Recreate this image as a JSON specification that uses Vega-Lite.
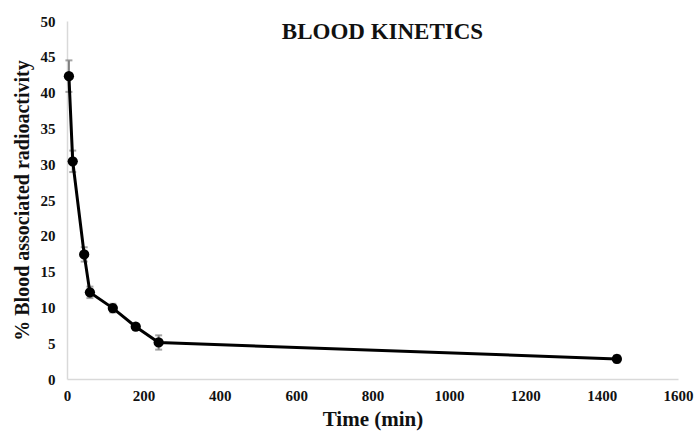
{
  "$schema": "https://vega.github.io/schema/vega-lite/v6.json",
  "autosize": "none",
  "width": 611,
  "height": 358,
  "padding": {"left": 67, "top": 21, "right": 20, "bottom": 52},
  "background": "white",
  "config": {
    "view": {"stroke": null},
    "font": "Liberation Serif",
    "axis": {
      "grid": false,
      "ticks": false,
      "domainColor": "#d9d9d9",
      "domainWidth": 1.5,
      "labelFont": "Liberation Serif",
      "labelFontSize": 15,
      "labelFontWeight": "bold",
      "labelColor": "#111",
      "labelFlush": false,
      "titleFont": "Liberation Serif",
      "titleFontWeight": "bold",
      "titleColor": "#111"
    }
  },
  "title": {
    "text": "BLOOD KINETICS",
    "font": "Liberation Serif",
    "fontSize": 23,
    "fontWeight": "bold",
    "color": "#111",
    "anchor": "middle",
    "frame": "group",
    "dx": 10,
    "offset": -30
  },
  "data": {
    "values": [
      {"time": 5, "value": 42.3, "err": 2.2},
      {"time": 15, "value": 30.4, "err": 1.5},
      {"time": 45, "value": 17.4, "err": 1.0},
      {"time": 60, "value": 12.1, "err": 0.8},
      {"time": 120, "value": 9.9, "err": 0.6},
      {"time": 180, "value": 7.3, "err": 0.4},
      {"time": 240, "value": 5.1, "err": 1.0},
      {"time": 1440, "value": 2.8, "err": 0.5}
    ]
  },
  "transform": [
    {"calculate": "datum.value - datum.err", "as": "lo"},
    {"calculate": "datum.value + datum.err", "as": "hi"}
  ],
  "encoding": {
    "x": {
      "field": "time",
      "type": "quantitative",
      "scale": {"domain": [0, 1600], "nice": false, "zero": true},
      "axis": {"values": [0,200,400,600,800,1000,1200,1400,1600], "format": "d", "labelFlush": false, "title": "Time (min)", "titleFontSize": 21, "labelPadding": 9, "titlePadding": 5}
    },
    "y": {
      "field": "value",
      "type": "quantitative",
      "scale": {"domain": [0, 50], "nice": false},
      "axis": {"values": [0,5,10,15,20,25,30,35,40,45,50], "labelOverlap": false, "labelBound": false, "labelSeparation": 0, "format": "d", "title": "% Blood associated radioactivity", "titleFontSize": 20, "labelPadding": 12, "titlePadding": 8}
    }
  },
  "layer": [
    {
      "mark": {"type": "rule", "color": "#808080", "strokeWidth": 2},
      "encoding": {
        "y": {"field": "lo", "type": "quantitative"},
        "y2": {"field": "hi"}
      }
    },
    {
      "mark": {"type": "tick", "orient": "horizontal", "color": "#808080", "size": 7, "thickness": 2},
      "encoding": {"y": {"field": "lo", "type": "quantitative"}}
    },
    {
      "mark": {"type": "tick", "orient": "horizontal", "color": "#808080", "size": 7, "thickness": 2},
      "encoding": {"y": {"field": "hi", "type": "quantitative"}}
    },
    {
      "mark": {"type": "line", "color": "#000", "strokeWidth": 3, "interpolate": "linear"}
    },
    {
      "mark": {"type": "point", "filled": true, "color": "#000", "size": 105, "opacity": 1}
    }
  ]
}
